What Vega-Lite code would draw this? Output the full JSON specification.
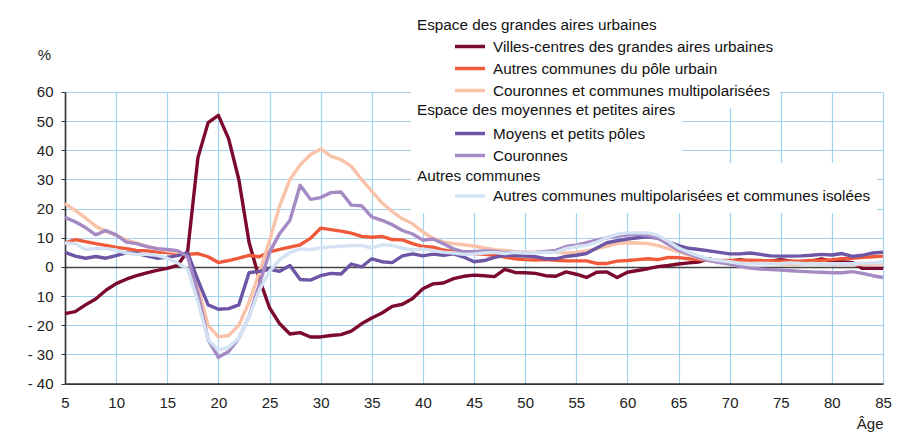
{
  "$schema": "https://vega.github.io/schema/vega-lite/v6.json",
  "width": 818,
  "height": 291.6,
  "autosize": {"type": "none"},
  "padding": {"left": 65, "top": 92, "right": 16, "bottom": 48},
  "background": "white",
  "config": {
    "view": {"stroke": null},
    "font": "Liberation Sans",
    "legend": {
      "orient": "none", "fillColor": "white", "padding": 6,
      "symbolType": "stroke", "symbolSize": 900, "symbolStrokeWidth": 3.5,
      "symbolOffset": 36, "labelOffset": 6,
      "clipHeight": 21.5, "rowPadding": 0,
      "labelFont": "Liberation Sans", "labelFontSize": 15.3, "labelColor": "#111", "labelLimit": 1000,
      "titleFont": "Liberation Sans", "titleFontSize": 15.3, "titleFontWeight": "normal", "titleColor": "#111",
      "titleLimit": 1000, "titlePadding": 4.5
    }
  },
  "data": {"values": [
    {"age":5,"vc":-16,"acpu":8.2,"ccm":21.7,"mpp":5,"cour":17,"acmi":8.2},
    {"age":6,"vc":-15.3,"acpu":9.4,"ccm":19.4,"mpp":3.7,"cour":15.5,"acmi":8},
    {"age":7,"vc":-13,"acpu":8.7,"ccm":16.8,"mpp":3,"cour":13.5,"acmi":6},
    {"age":8,"vc":-11,"acpu":8,"ccm":14,"mpp":3.6,"cour":11,"acmi":6.3},
    {"age":9,"vc":-8,"acpu":7.4,"ccm":12.2,"mpp":3,"cour":12.5,"acmi":6.3},
    {"age":10,"vc":-5.7,"acpu":6.7,"ccm":10.9,"mpp":3.9,"cour":11,"acmi":5.8},
    {"age":11,"vc":-4.2,"acpu":6.3,"ccm":9.2,"mpp":4.8,"cour":8.5,"acmi":4.7},
    {"age":12,"vc":-3,"acpu":5.7,"ccm":8.2,"mpp":4.7,"cour":8,"acmi":4.3},
    {"age":13,"vc":-2,"acpu":5.5,"ccm":7.1,"mpp":3.8,"cour":7,"acmi":4.3},
    {"age":14,"vc":-1.2,"acpu":5.1,"ccm":6.3,"mpp":3,"cour":6.3,"acmi":4},
    {"age":15,"vc":-0.5,"acpu":4.9,"ccm":5.5,"mpp":3.3,"cour":6,"acmi":3},
    {"age":16,"vc":0.5,"acpu":4.6,"ccm":5,"mpp":3.9,"cour":5.6,"acmi":1.4},
    {"age":17,"vc":5.5,"acpu":4.3,"ccm":4,"mpp":4.8,"cour":3.5,"acmi":-0.8},
    {"age":18,"vc":37.5,"acpu":4.6,"ccm":-7,"mpp":-4.5,"cour":-9,"acmi":-12},
    {"age":19,"vc":49.5,"acpu":3.5,"ccm":-20,"mpp":-13,"cour":-25,"acmi":-25},
    {"age":20,"vc":52,"acpu":1.5,"ccm":-24,"mpp":-14.5,"cour":-31,"acmi":-28.5},
    {"age":21,"vc":44,"acpu":2.2,"ccm":-23.5,"mpp":-14.3,"cour":-29,"acmi":-27.5},
    {"age":22,"vc":30,"acpu":3,"ccm":-20,"mpp":-13,"cour":-24.5,"acmi":-24.5},
    {"age":23,"vc":8.5,"acpu":4,"ccm":-12,"mpp":-2,"cour":-17,"acmi":-17},
    {"age":24,"vc":-4,"acpu":3.5,"ccm":-2,"mpp":-1.5,"cour":-6,"acmi":-8},
    {"age":25,"vc":-14,"acpu":5.2,"ccm":9,"mpp":-0.8,"cour":5,"acmi":-1.5},
    {"age":26,"vc":-19.5,"acpu":6,"ccm":21,"mpp":-1.5,"cour":11.5,"acmi":2.5},
    {"age":27,"vc":-23,"acpu":6.8,"ccm":30,"mpp":0.5,"cour":16,"acmi":5},
    {"age":28,"vc":-22.5,"acpu":7.6,"ccm":35,"mpp":-4.3,"cour":28,"acmi":6.2},
    {"age":29,"vc":-24,"acpu":9.8,"ccm":38.5,"mpp":-4.5,"cour":23.2,"acmi":6},
    {"age":30,"vc":-24,"acpu":13.3,"ccm":40.5,"mpp":-3,"cour":23.8,"acmi":6.5},
    {"age":31,"vc":-23.5,"acpu":12.8,"ccm":38,"mpp":-2.2,"cour":25.5,"acmi":6.9},
    {"age":32,"vc":-23.2,"acpu":12.3,"ccm":36.8,"mpp":-2.4,"cour":25.7,"acmi":7.1},
    {"age":33,"vc":-22,"acpu":11.6,"ccm":34.5,"mpp":1,"cour":21.2,"acmi":7.3},
    {"age":34,"vc":-19.5,"acpu":10.5,"ccm":30,"mpp":0,"cour":21,"acmi":7.4},
    {"age":35,"vc":-17.5,"acpu":10.2,"ccm":26,"mpp":2.8,"cour":17.2,"acmi":6.5},
    {"age":36,"vc":-15.8,"acpu":10.5,"ccm":22,"mpp":1.8,"cour":16,"acmi":7.6},
    {"age":37,"vc":-13.5,"acpu":9.4,"ccm":19,"mpp":1.5,"cour":14.5,"acmi":7.4},
    {"age":38,"vc":-12.8,"acpu":9.3,"ccm":16.5,"mpp":3.8,"cour":12.5,"acmi":6.4},
    {"age":39,"vc":-10.8,"acpu":8,"ccm":14.8,"mpp":4.5,"cour":11.3,"acmi":5.8},
    {"age":40,"vc":-7.5,"acpu":7,"ccm":12,"mpp":3.8,"cour":9.2,"acmi":6.2},
    {"age":41,"vc":-5.8,"acpu":6.8,"ccm":9.8,"mpp":4.4,"cour":9.6,"acmi":5.5},
    {"age":42,"vc":-5.5,"acpu":5.8,"ccm":8.6,"mpp":4,"cour":8,"acmi":5.1},
    {"age":43,"vc":-4,"acpu":5.2,"ccm":8,"mpp":4.5,"cour":6.2,"acmi":4.8},
    {"age":44,"vc":-3.2,"acpu":4.8,"ccm":7.6,"mpp":3.4,"cour":5.2,"acmi":4.3},
    {"age":45,"vc":-2.8,"acpu":4.6,"ccm":7.2,"mpp":1.8,"cour":5.2,"acmi":4.5},
    {"age":46,"vc":-3,"acpu":4.3,"ccm":6.5,"mpp":2.2,"cour":5.5,"acmi":4.8},
    {"age":47,"vc":-3.3,"acpu":4,"ccm":5.9,"mpp":3.3,"cour":5.4,"acmi":5},
    {"age":48,"vc":-0.8,"acpu":3.4,"ccm":5.7,"mpp":4,"cour":4.9,"acmi":4.6},
    {"age":49,"vc":-1.9,"acpu":2.8,"ccm":5.2,"mpp":3.9,"cour":5,"acmi":5},
    {"age":50,"vc":-2,"acpu":2.5,"ccm":5.1,"mpp":3.7,"cour":4.9,"acmi":4.8},
    {"age":51,"vc":-2.2,"acpu":2.4,"ccm":5.1,"mpp":3.5,"cour":5,"acmi":4.9},
    {"age":52,"vc":-3,"acpu":2.5,"ccm":5.1,"mpp":2.8,"cour":5.3,"acmi":5},
    {"age":53,"vc":-3.2,"acpu":2.3,"ccm":5,"mpp":2.8,"cour":5.7,"acmi":5},
    {"age":54,"vc":-1.7,"acpu":2.1,"ccm":4.8,"mpp":3.6,"cour":7,"acmi":6.3},
    {"age":55,"vc":-2.5,"acpu":2.1,"ccm":5,"mpp":4,"cour":7.5,"acmi":7},
    {"age":56,"vc":-3.6,"acpu":2.1,"ccm":5.5,"mpp":4.6,"cour":8.3,"acmi":7.4},
    {"age":57,"vc":-1.8,"acpu":1.2,"ccm":6.3,"mpp":6.5,"cour":9.2,"acmi":8.5},
    {"age":58,"vc":-1.7,"acpu":1.2,"ccm":7.1,"mpp":8.3,"cour":10,"acmi":10},
    {"age":59,"vc":-3.6,"acpu":2,"ccm":8,"mpp":9,"cour":10.5,"acmi":11.2},
    {"age":60,"vc":-1.8,"acpu":2.2,"ccm":8.3,"mpp":9.6,"cour":11,"acmi":11.7},
    {"age":61,"vc":-1.2,"acpu":2.5,"ccm":8.2,"mpp":10,"cour":11.2,"acmi":11.7},
    {"age":62,"vc":-0.6,"acpu":2.8,"ccm":8,"mpp":10.3,"cour":10.8,"acmi":11.7},
    {"age":63,"vc":0.1,"acpu":2.5,"ccm":7.3,"mpp":9.8,"cour":9.8,"acmi":10.8},
    {"age":64,"vc":0.5,"acpu":3.3,"ccm":6.3,"mpp":8.6,"cour":7.8,"acmi":8.8},
    {"age":65,"vc":1,"acpu":3.2,"ccm":5.3,"mpp":7.3,"cour":5.8,"acmi":6.5},
    {"age":66,"vc":1.4,"acpu":2.8,"ccm":4.1,"mpp":6.4,"cour":4.5,"acmi":5},
    {"age":67,"vc":1.7,"acpu":2.5,"ccm":3,"mpp":6,"cour":3.2,"acmi":3.8},
    {"age":68,"vc":2.8,"acpu":2.3,"ccm":2.2,"mpp":5.5,"cour":2.2,"acmi":2.7},
    {"age":69,"vc":1.8,"acpu":2.2,"ccm":1.8,"mpp":5,"cour":1.5,"acmi":2.2},
    {"age":70,"vc":2,"acpu":2.2,"ccm":1.6,"mpp":4.5,"cour":1,"acmi":1.8},
    {"age":71,"vc":2.5,"acpu":2.2,"ccm":1.4,"mpp":4.5,"cour":0.2,"acmi":1.2},
    {"age":72,"vc":2,"acpu":2.3,"ccm":1.2,"mpp":4.8,"cour":-0.4,"acmi":1.1},
    {"age":73,"vc":1.8,"acpu":2.2,"ccm":1.3,"mpp":4.3,"cour":-0.7,"acmi":1.1},
    {"age":74,"vc":2,"acpu":2.1,"ccm":1.2,"mpp":3.8,"cour":-0.9,"acmi":1.1},
    {"age":75,"vc":2.5,"acpu":2,"ccm":1,"mpp":3.7,"cour":-1.1,"acmi":1.2},
    {"age":76,"vc":2,"acpu":2,"ccm":0.8,"mpp":3.7,"cour":-1.3,"acmi":1.4},
    {"age":77,"vc":1.7,"acpu":2,"ccm":1,"mpp":3.8,"cour":-1.5,"acmi":1.2},
    {"age":78,"vc":2,"acpu":2.2,"ccm":1.2,"mpp":4,"cour":-1.7,"acmi":1.1},
    {"age":79,"vc":2.8,"acpu":2.3,"ccm":1,"mpp":4.3,"cour":-1.8,"acmi":1.1},
    {"age":80,"vc":2,"acpu":2.5,"ccm":0.8,"mpp":4.1,"cour":-2,"acmi":1.1},
    {"age":81,"vc":1.8,"acpu":2.8,"ccm":1,"mpp":4.6,"cour":-2,"acmi":1.1},
    {"age":82,"vc":1.5,"acpu":3,"ccm":0.8,"mpp":3.6,"cour":-1.6,"acmi":1.1},
    {"age":83,"vc":-0.5,"acpu":3.3,"ccm":0.8,"mpp":4,"cour":-2.2,"acmi":1.3},
    {"age":84,"vc":-0.5,"acpu":3.5,"ccm":1,"mpp":4.8,"cour":-3,"acmi":1.4},
    {"age":85,"vc":-0.5,"acpu":3.7,"ccm":1.2,"mpp":5.1,"cour":-3.6,"acmi":1.7}
  ]},
  "encoding": {
    "x": {
      "field": "age", "type": "quantitative",
      "scale": {"domain": [5, 85], "nice": false, "zero": false},
      "axis": {
        "values": [5,10,15,20,25,30,35,40,45,50,55,60,65,70,75,80,85],
        "title": "Âge", "titleAnchor": "end", "titleAlign": "right", "titleX": 818, "titleY": 45,
        "titleBaseline": "alphabetic", "titleFontWeight": "normal", "titleFontSize": 15, "titleColor": "#222",
        "ticks": false, "labelPadding": 12, "labelFontSize": 15, "labelColor": "#222", "labelFlush": false,
        "domainColor": "#333", "domainWidth": 1.6, "gridColor": "#a3d2f0", "gridWidth": 1.2
      }
    },
    "y": {
      "field": "valeur", "type": "quantitative",
      "scale": {"domain": [-40, 60], "nice": false},
      "axis": {
        "values": [-40,-30,-20,-10,0,10,20,30,40,50,60],
        "labelExpr": "datum.value < -10 ? '- ' + (-datum.value) : (datum.value == -10 ? '10' : datum.label)",
        "title": "%", "titleAngle": 0, "titleX": -21, "titleY": -37, "titleAlign": "center", "titleBaseline": "middle",
        "titleFontWeight": "normal", "titleFontSize": 15, "titleColor": "#222",
        "tickSize": 4, "tickColor": "#333", "labelPadding": 8, "labelFontSize": 15, "labelColor": "#222",
        "domainColor": "#333", "domainWidth": 1.6,
        "gridColor": {"condition": {"test": "datum.value === 0", "value": "#444444"}, "value": "#a3d2f0"},
        "gridWidth": {"condition": {"test": "datum.value === 0", "value": 1.6}, "value": 1.2}
      }
    }
  },
  "layer": [
    {
      "transform": [{"fold": ["vc", "acpu", "ccm"], "as": ["serie", "valeur"]}],
      "mark": {"type": "line", "strokeWidth": 3.4, "strokeJoin": "round"},
      "encoding": {
        "color": {
          "field": "serie", "type": "nominal",
          "scale": {"domain": ["vc", "acpu", "ccm"], "range": ["#7b0a2e", "#f05a3a", "#f9c2a9"]},
          "legend": {
            "title": "Espace des grandes aires urbaines\u00a0\u00a0\u00a0\u00a0\u00a0\u00a0\u00a0\u00a0\u00a0\u00a0\u00a0\u00a0\u00a0\u00a0\u00a0\u00a0\u00a0\u00a0\u00a0\u00a0\u00a0\u00a0\u00a0\u00a0\u00a0\u00a0\u00a0\u00a0\u00a0\u00a0\u00a0\u00a0\u00a0\u00a0\u00a0\u00a0\u00a0\u00a0\u00a0\u00a0\u00a0\u00a0\u00a0\u00a0\u00a0\u00a0\u00a0\u00a0\u00a0",
            "legendX": 346, "legendY": -80, "titlePadding": 2.5,
            "labelExpr": "{'vc': 'Villes-centres des grandes aires urbaines', 'acpu': 'Autres communes du pôle urbain', 'ccm': 'Couronnes et communes multipolarisées'}[datum.value]"
          }
        }
      }
    },
    {
      "transform": [{"fold": ["mpp", "cour"], "as": ["serie", "valeur"]}],
      "mark": {"type": "line", "strokeWidth": 3.4, "strokeJoin": "round"},
      "encoding": {
        "color": {
          "field": "serie", "type": "nominal",
          "scale": {"domain": ["mpp", "cour"], "range": ["#6c56a5", "#a68ac3"]},
          "legend": {
            "title": "Espace des moyennes et petites aires\u00a0\u00a0\u00a0\u00a0\u00a0\u00a0\u00a0\u00a0\u00a0\u00a0\u00a0\u00a0\u00a0\u00a0\u00a0\u00a0\u00a0\u00a0\u00a0\u00a0\u00a0\u00a0\u00a0\u00a0\u00a0\u00a0\u00a0\u00a0\u00a0\u00a0\u00a0\u00a0\u00a0\u00a0\u00a0\u00a0\u00a0\u00a0\u00a0\u00a0\u00a0\u00a0\u00a0\u00a0\u00a0",
            "legendX": 346, "legendY": 5,
            "labelExpr": "{'mpp': 'Moyens et petits pôles', 'cour': 'Couronnes'}[datum.value]"
          }
        }
      }
    },
    {
      "transform": [{"fold": ["acmi"], "as": ["serie", "valeur"]}],
      "mark": {"type": "line", "strokeWidth": 3.4, "strokeJoin": "round"},
      "encoding": {
        "color": {
          "field": "serie", "type": "nominal",
          "scale": {"domain": ["acmi"], "range": ["#d3e3f4"]},
          "legend": {
            "title": "Autres communes",
            "legendX": 346, "legendY": 71, "titlePadding": 1,
            "labelExpr": "{'acmi': 'Autres communes multipolarisées et communes isolées'}[datum.value]"
          }
        }
      }
    }
  ],
  "resolve": {"scale": {"color": "independent"}, "legend": {"color": "independent"}}
}
